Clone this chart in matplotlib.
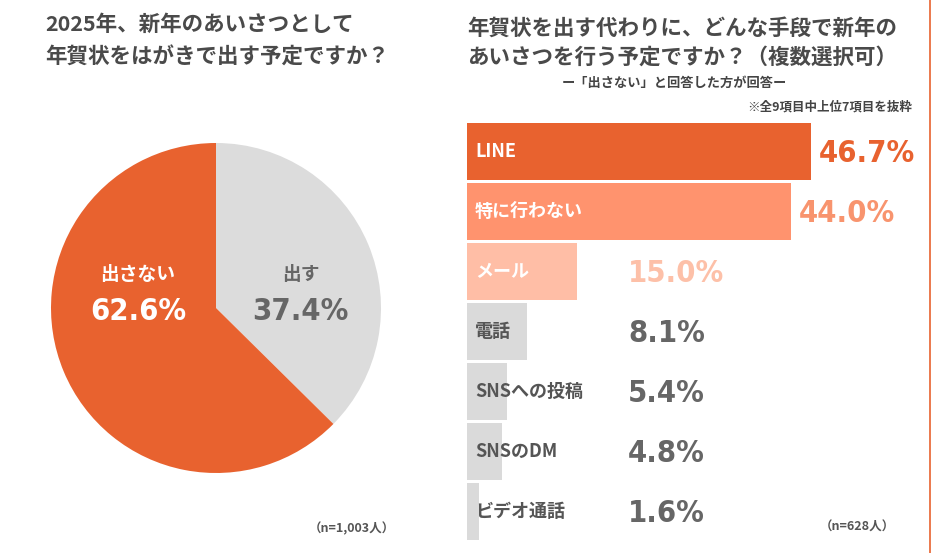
import matplotlib
matplotlib.use('Agg')
import matplotlib.pyplot as plt
from matplotlib.lines import Line2D
from matplotlib import font_manager as fm

plt.rcParams['font.family'] = ['Noto Sans CJK JP', 'DejaVu Sans']

# left: pie
pie_labels = ['出す', '出さない']
pie_values = [37.4, 62.6]
pie_colors = ['#DCDCDC', '#E8622F']

# right: bars
bar_labels = ['LINE', '特に行わない', 'メール', '電話', 'SNSへの投稿', 'SNSのDM', 'ビデオ通話']
bar_values = [46.7, 44.0, 15.0, 8.1, 5.4, 4.8, 1.6]
bar_colors = ['#E8622F', '#FF936E', '#FFBEA6', '#DADADA', '#DADADA', '#DADADA', '#DADADA']
val_colors = ['#E8622F', '#F8946E', '#FDC0A8', '#666666', '#666666', '#666666', '#666666']
name_colors = ['white', 'white', 'white', '#555555', '#555555', '#555555', '#555555']

# font for the big numbers: a narrow bold face if there is one, else Roboto bold
num_file = None
for f in fm.fontManager.ttflist:
    low = f.fname.lower()
    if ('narrow' in low or 'condensed' in low) and 'bold' in low and 'italic' not in low \
            and 'oblique' not in low and 'extra' not in low and 'semi' not in low:
        num_file = f.fname
        break
if num_file is None:
    try:
        num_file = fm.findfont(fm.FontProperties(family='Roboto', weight='bold'),
                               fallback_to_default=False)
    except ValueError:
        num_file = fm.findfont(fm.FontProperties(family='DejaVu Sans', weight='bold'))

W, H = 934, 553
fig = plt.figure(figsize=(W / 100, H / 100), dpi=100)
renderer = fig.canvas.get_renderer()

# size the numbers so "46.7%" is about as wide as in the reference
probe = fig.text(0, 0, '46.7%', fontproperties=fm.FontProperties(fname=num_file, size=10))
w10 = probe.get_window_extent(renderer).width
probe.remove()
num_size = min(28, 10 * 96 / w10)


def numfont():
    return fm.FontProperties(fname=num_file, size=num_size)


def px(x, y):
    return x / W, 1 - y / H


title_c = '#4A4A4A'

# titles
fig.text(*px(45, 24), '2025年、新年のあいさつとして', fontsize=15.5, fontweight='bold',
         color=title_c, va='center', ha='left')
fig.text(*px(45, 57), '年賀状をはがきで出す予定ですか？', fontsize=15.5, fontweight='bold',
         color=title_c, va='center', ha='left')
fig.text(*px(467, 28), '年賀状を出す代わりに、どんな手段で新年の', fontsize=15.5, fontweight='bold',
         color=title_c, va='center', ha='left')
fig.text(*px(467, 57), 'あいさつを行う予定ですか？（複数選択可）', fontsize=15.5, fontweight='bold',
         color=title_c, va='center', ha='left')
fig.text(*px(674, 83), 'ー「出さない」と回答した方が回答ー', fontsize=9.5, fontweight='bold',
         color='#444444', va='center', ha='center')
fig.text(*px(912, 107), '※全9項目中上位7項目を抜粋', fontsize=9, fontweight='bold',
         color='#444444', va='center', ha='right')

# pie
r = 165
cx, cy = 216, 308
x0, y0 = px(cx - r, cy + r)
ax_pie = fig.add_axes([x0, y0, 2 * r / W, 2 * r / H])
ax_pie.pie(pie_values, colors=pie_colors, startangle=90, counterclock=False,
           radius=1, wedgeprops=dict(linewidth=0))
ax_pie.set_xlim(-1, 1)
ax_pie.set_ylim(-1, 1)
ax_pie.axis('off')

fig.text(*px(138, 275), pie_labels[1], fontsize=13.5, fontweight='bold', color='white',
         ha='center', va='center')
fig.text(*px(138, 311), f'{pie_values[1]:.1f}%', fontproperties=numfont(), color='white',
         ha='center', va='center')
fig.text(*px(301, 275), pie_labels[0], fontsize=13.5, fontweight='bold', color='#666666',
         ha='center', va='center')
fig.text(*px(300, 311), f'{pie_values[0]:.1f}%', fontproperties=numfont(), color='#666666',
         ha='center', va='center')

fig.text(*px(395, 529), '（n=1,003人）', fontsize=9, fontweight='bold', color='#555555',
         ha='right', va='center')

# bars
scale = 344 / 46.7
bx0 = 467
top, bot = 121.5, 541.5
xmax = 60
ax_bar = fig.add_axes([bx0 / W, 1 - bot / H, xmax * scale / W, (bot - top) / H])
ypos = list(range(len(bar_values)))
ax_bar.barh(ypos, bar_values, height=0.95, color=bar_colors, linewidth=0)
ax_bar.set_xlim(0, xmax)
ax_bar.set_ylim(len(bar_values) - 0.5, -0.5)
ax_bar.axis('off')

for i, (lab, v) in enumerate(zip(bar_labels, bar_values)):
    ax_bar.text(8 / scale, i, lab, fontsize=13, fontweight='bold', color=name_colors[i],
                ha='left', va='center')
    xv = max(v + 8 / scale, 161 / scale)
    ax_bar.text(xv, i + 0.03, f'{v:.1f}%', fontproperties=numfont(), color=val_colors[i],
                ha='left', va='center')

fig.text(*px(895, 527), '（n=628人）', fontsize=9, fontweight='bold', color='#555555',
         ha='right', va='center')

# thin orange rule on the right edge
fig.add_artist(Line2D([929.5 / W, 929.5 / W], [0, 1], color='#E8622F', linewidth=1.2))

fig.savefig('out.png', dpi=100, facecolor='white')
